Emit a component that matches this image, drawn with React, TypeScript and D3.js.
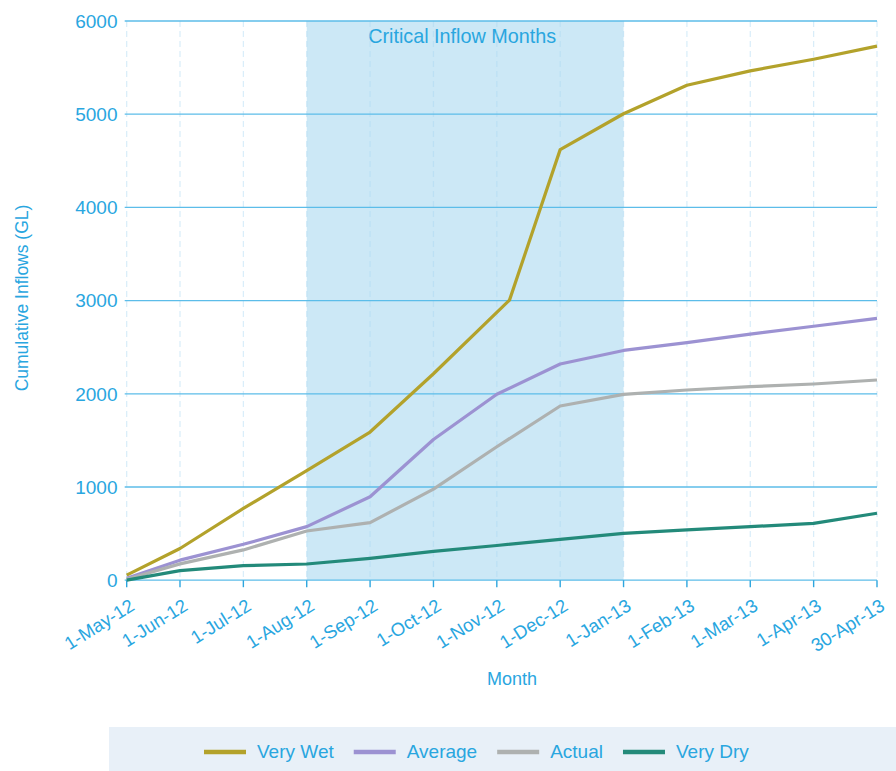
import React, { useEffect, useRef } from "react";
import * as d3 from "d3";

// x categories (month index, 0 = 1-May-12)
const monthLabels = [
  "1-May-12", "1-Jun-12", "1-Jul-12", "1-Aug-12", "1-Sep-12", "1-Oct-12", "1-Nov-12",
  "1-Dec-12", "1-Jan-13", "1-Feb-13", "1-Mar-13", "1-Apr-13", "30-Apr-13",
];
const monthIndex = [0, 1, 2, 3, 4, 5, 6, 7, 8, 9, 10, 11, 12];
// very wet series has its November reading about a week into the month
const wetMonthIndex = [0, 1, 2, 3, 4, 5, 6.2, 7, 8, 9, 10, 11, 12];

const veryWet = [55, 340, 770, 1175, 1590, 2215, 3005, 4620, 5005, 5310, 5465, 5590, 5730];
const average = [20, 215, 385, 575, 895, 1510, 1995, 2320, 2465, 2550, 2640, 2725, 2810];
const actual = [10, 175, 325, 528, 617, 978, 1432, 1869, 1994, 2041, 2076, 2105, 2148];
const veryDry = [0, 102, 156, 174, 235, 310, 372, 439, 503, 539, 574, 610, 718];

const yTicks = [0, 1000, 2000, 3000, 4000, 5000, 6000];
const criticalFrom = 3; // 1-Aug-12
const criticalTo = 8; // 1-Jan-13

const seriesNames = ["Very Wet", "Average", "Actual", "Very Dry"];
const seriesColors = ["#b3a22b", "#9c92d2", "#aeb1b0", "#238a7a"];

const TEXT = "#29a6df";
const GRID = "#5cbde9";
const FONT = "'Liberation Sans', Arial, sans-serif";

export default function App() {
  const svgRef = useRef<SVGSVGElement>(null);

  useEffect(() => {
    drawChart();
  }, []);

  function drawChart() {
    const width = 896;
    const height = 771;
    const left = 126.7;
    const firstGap = 53.3;
    const right = 877;
    const top = 21;
    const bottom = 580.2;

    const svg = d3.select(svgRef.current);
    svg.selectAll("*").remove();
    svg.attr("width", width).attr("height", height);

    // first month is drawn narrower than the rest, as in the source chart
    const x = d3.scaleLinear().domain([0, 1, 12]).range([left, left + firstGap, right]);
    const y = d3.scaleLinear().domain([0, 6000]).range([bottom, top]);

    // critical inflow band
    svg.append("rect")
      .attr("x", x(criticalFrom))
      .attr("y", top)
      .attr("width", x(criticalTo) - x(criticalFrom))
      .attr("height", bottom - top)
      .attr("fill", "#cce8f6");

    svg.append("text")
      .attr("x", (x(criticalFrom) + x(criticalTo)) / 2 - 3)
      .attr("y", 43)
      .attr("text-anchor", "middle")
      .attr("fill", TEXT)
      .style("font-family", FONT)
      .style("font-size", "19.8px")
      .text("Critical Inflow Months");

    // vertical dashed grid
    svg.append("g")
      .selectAll("line")
      .data(monthIndex)
      .enter()
      .append("line")
      .attr("x1", d => x(d))
      .attr("x2", d => x(d))
      .attr("y1", top)
      .attr("y2", bottom)
      .attr("stroke", "#a9d8f1")
      .attr("stroke-opacity", 0.45)
      .attr("stroke-width", 1.2)
      .attr("stroke-dasharray", "6,4");

    // horizontal grid
    svg.append("g")
      .selectAll("line")
      .data(yTicks)
      .enter()
      .append("line")
      .attr("x1", left - 2)
      .attr("x2", right)
      .attr("y1", d => y(d))
      .attr("y2", d => y(d))
      .attr("stroke", GRID)
      .attr("stroke-width", 1.3);

    // y tick labels
    svg.append("g")
      .selectAll("text")
      .data(yTicks)
      .enter()
      .append("text")
      .attr("x", 117.5)
      .attr("y", d => y(d))
      .attr("dy", "0.36em")
      .attr("text-anchor", "end")
      .attr("fill", TEXT)
      .style("font-family", FONT)
      .style("font-size", "19px")
      .text(d => d);

    // x axis ticks
    svg.append("g")
      .selectAll("line")
      .data(monthIndex)
      .enter()
      .append("line")
      .attr("x1", d => x(d))
      .attr("x2", d => x(d))
      .attr("y1", bottom)
      .attr("y2", bottom + 7)
      .attr("stroke", "#2ea6de")
      .attr("stroke-width", 1.4);

    svg.append("g")
      .selectAll("text")
      .data(monthIndex)
      .enter()
      .append("text")
      .attr("transform", d => `translate(${x(d) + 9}, 609) rotate(-32)`)
      .attr("text-anchor", "end")
      .attr("fill", TEXT)
      .style("font-family", FONT)
      .style("font-size", "18.5px")
      .text((d, i) => monthLabels[i]);

    // series lines
    const allSeries = [veryWet, average, actual, veryDry];
    const line = d3.line<[number, number]>()
      .x(d => x(d[0]))
      .y(d => y(d[1]));

    allSeries.forEach((vals, si) => {
      const xs = si === 0 ? wetMonthIndex : monthIndex;
      const pts = vals.map((v, i) => [xs[i], v] as [number, number]);
      svg.append("path")
        .datum(pts)
        .attr("d", line)
        .attr("fill", "none")
        .attr("stroke", seriesColors[si])
        .attr("stroke-width", 3.2)
        .attr("stroke-linejoin", "round");
    });

    // axis titles
    svg.append("text")
      .attr("x", 512)
      .attr("y", 685)
      .attr("text-anchor", "middle")
      .attr("fill", TEXT)
      .style("font-family", FONT)
      .style("font-size", "18px")
      .text("Month");

    svg.append("text")
      .attr("transform", "translate(28, 298) rotate(-90)")
      .attr("text-anchor", "middle")
      .attr("fill", TEXT)
      .style("font-family", FONT)
      .style("font-size", "17.5px")
      .text("Cumulative Inflows (GL)");

    // legend
    svg.append("rect")
      .attr("x", 109)
      .attr("y", 727)
      .attr("width", width - 109)
      .attr("height", height - 727)
      .attr("fill", "#e8f0f8");

    let cx = 204;
    seriesNames.forEach((name, i) => {
      svg.append("line")
        .attr("x1", cx)
        .attr("x2", cx + 42)
        .attr("y1", 752)
        .attr("y2", 752)
        .attr("stroke", seriesColors[i])
        .attr("stroke-width", 4.5);
      const t = svg.append("text")
        .attr("x", cx + 53)
        .attr("y", 758)
        .attr("fill", TEXT)
        .style("font-family", FONT)
        .style("font-size", "19px")
        .text(name);
      const w = (t.node() as SVGTextElement).getComputedTextLength();
      cx = cx + 53 + w + 20;
    });
  }

  return (
    <svg
      ref={svgRef}
      style={{ position: "absolute", left: 0, top: 0, display: "block", background: "#fff" }}
    ></svg>
  );
}
